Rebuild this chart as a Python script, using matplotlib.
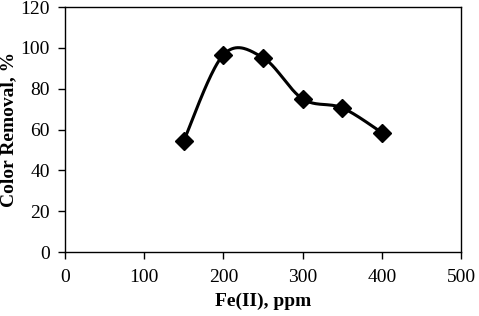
import matplotlib
matplotlib.use("Agg")
import matplotlib.pyplot as plt
import numpy as np

# data
fe_ppm = [150, 200, 250, 300, 350, 400]
color_removal = [54.5, 96.6, 95.2, 75.0, 70.6, 58.5]

x_ticks = [0, 100, 200, 300, 400, 500]
y_ticks = [0, 20, 40, 60, 80, 100, 120]


def smooth_line(xs, ys, n=40):
    """Catmull-Rom style smoothing like Excel's smoothed lines"""
    pts = np.column_stack([xs, ys]).astype(float)
    ext = np.vstack([pts[0], pts, pts[-1]])
    out = []
    t = np.linspace(0, 1, n)
    for i in range(1, len(ext) - 2):
        p0, p1, p2, p3 = ext[i - 1], ext[i], ext[i + 1], ext[i + 2]
        c1 = p1 + (p2 - p0) / 6.0
        c2 = p2 - (p3 - p1) / 6.0
        seg = ((1 - t) ** 3)[:, None] * p1 + (3 * (1 - t) ** 2 * t)[:, None] * c1 \
            + (3 * (1 - t) * t ** 2)[:, None] * c2 + (t ** 3)[:, None] * p2
        out.append(seg)
    curve = np.vstack(out)
    return curve[:, 0], curve[:, 1]


plt.rcParams["font.family"] = "Liberation Serif"

fig = plt.figure(figsize=(4.79, 3.16), dpi=100)
ax = fig.add_axes([0.1357, 0.2025, 0.8267, 0.7753])

sx, sy = smooth_line(fe_ppm, color_removal)
ax.plot(sx, sy, color="black", lw=2.2, zorder=2)
ax.plot(fe_ppm, color_removal, ls="none", marker="D", ms=9, color="black", zorder=3)

ax.set_xlim(0, 500)
ax.set_ylim(0, 120)
ax.set_xticks(x_ticks)
ax.set_yticks(y_ticks)
ax.tick_params(direction="out", length=5, width=1, labelsize=14)
ax.tick_params(axis="x", pad=7)
ax.tick_params(axis="y", pad=6)
ax.tick_params(top=False, right=False)
for s in ax.spines.values():
    s.set_linewidth(1)

ax.set_xlabel("Fe(II), ppm", fontsize=14, fontweight="bold", labelpad=5)
ax.set_ylabel("Color Removal, %", fontsize=14, fontweight="bold", labelpad=2)

fig.savefig("out.png", dpi=100)
